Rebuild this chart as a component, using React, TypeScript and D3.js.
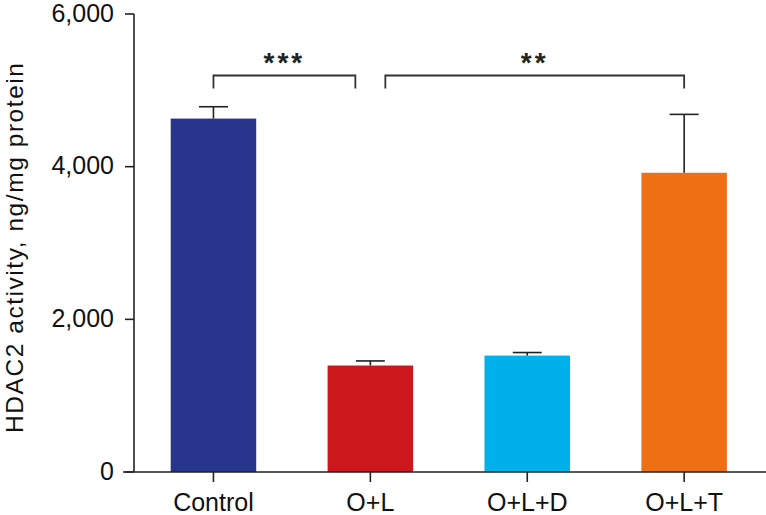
import React from "react";
import * as d3 from "d3";

const categories = ["Control", "O+L", "O+L+D", "O+L+T"];
const means = [4630, 1395, 1525, 3920];
const errors = [155, 60, 40, 765];
const colors = ["#27358C", "#CC171C", "#00B0E9", "#EE7015"];
const yTicks = [0, 2000, 4000, 6000];
const yLabel = "HDAC2 activity, ng/mg protein";
const brackets = [
  { from: "Control", to: "O+L", label: "***", fromOff: 0, toOff: -15 },
  { from: "O+L", to: "O+L+T", label: "**", fromOff: 15, toOff: 0 },
];

const W = 766;
const H = 515;

export default function App() {
  const x = d3
    .scaleBand<string>()
    .domain(categories)
    .range([135, 762.6])
    .paddingInner(0.455)
    .paddingOuter(0.2275);
  const y = d3.scaleLinear().domain([0, 6000]).range([472, 14]);
  const fmt = d3.format(",");
  const bw = x.bandwidth();
  const cx = (c: string) => (x(c) as number) + bw / 2;
  const font = "'Liberation Sans', Arial, sans-serif";
  const capW = 29;
  const bracketY = 75.5;
  const bracketDrop = 13;
  const labelSize = 24.5;
  const labelBottom = 433;
  const labelTop = 63;
  const labelCenter = (labelBottom + labelTop) / 2;

  return (
    <svg
      width={W}
      height={H}
      style={{ position: "absolute", left: 0, top: 0, background: "#fff" }}
    >
      {/* bars */}
      {categories.map((c, i) => (
        <rect
          key={c}
          x={x(c)}
          y={y(means[i])}
          width={bw}
          height={y(0) - y(means[i])}
          fill={colors[i]}
        />
      ))}
      {/* error bars */}
      {categories.map((c, i) => (
        <g key={"e" + c} stroke="#222" strokeWidth={1.6}>
          <line x1={cx(c)} x2={cx(c)} y1={y(means[i])} y2={y(means[i] + errors[i])} />
          <line
            x1={cx(c) - capW / 2}
            x2={cx(c) + capW / 2}
            y1={y(means[i] + errors[i])}
            y2={y(means[i] + errors[i])}
          />
        </g>
      ))}
      {/* y axis */}
      <line x1={134} x2={134} y1={y(6000)} y2={y(0)} stroke="#222" strokeWidth={1.6} />
      {yTicks.map((t) => (
        <g key={t}>
          <line x1={125} x2={134} y1={y(t)} y2={y(t)} stroke="#222" strokeWidth={1.6} />
          <text
            x={114}
            y={y(t)}
            dy="0.3em"
            textAnchor="end"
            fontFamily={font}
            fontSize={25}
            fill="#111"
          >
            {fmt(t)}
          </text>
        </g>
      ))}
      {/* x axis */}
      <line x1={123} x2={766} y1={y(0)} y2={y(0)} stroke="#222" strokeWidth={1.6} />
      {categories.map((c) => (
        <g key={"t" + c}>
          <line x1={cx(c)} x2={cx(c)} y1={y(0)} y2={y(0) + 10} stroke="#222" strokeWidth={1.6} />
          <text
            x={cx(c)}
            y={511}
            textAnchor="middle"
            fontFamily={font}
            fontSize={25}
            fill="#111"
          >
            {c}
          </text>
        </g>
      ))}
      {/* y label */}
      <text
        transform={`translate(23, ${labelCenter}) rotate(-90)`}
        textAnchor="middle"
        fontFamily={font}
        fontSize={labelSize}
        textLength={labelBottom - labelTop}
        lengthAdjust="spacing"
        fill="#111"
      >
        {yLabel}
      </text>
      {/* significance brackets */}
      {brackets.map((b) => {
        const x1 = cx(b.from) + b.fromOff;
        const x2 = cx(b.to) + b.toOff;
        return (
          <g key={b.label}>
            <path
              d={`M${x1},${bracketY + bracketDrop}V${bracketY}H${x2}V${bracketY + bracketDrop}`}
              fill="none"
              stroke="#333"
              strokeWidth={1.8}
            />
            <text
              x={(x1 + x2) / 2}
              y={bracketY - 4}
              textAnchor="middle"
              fontFamily={font}
              fontSize={28}
              fontWeight="bold"
              letterSpacing={3}
              fill="#222"
            >
              {b.label}
            </text>
          </g>
        );
      })}
    </svg>
  );
}
